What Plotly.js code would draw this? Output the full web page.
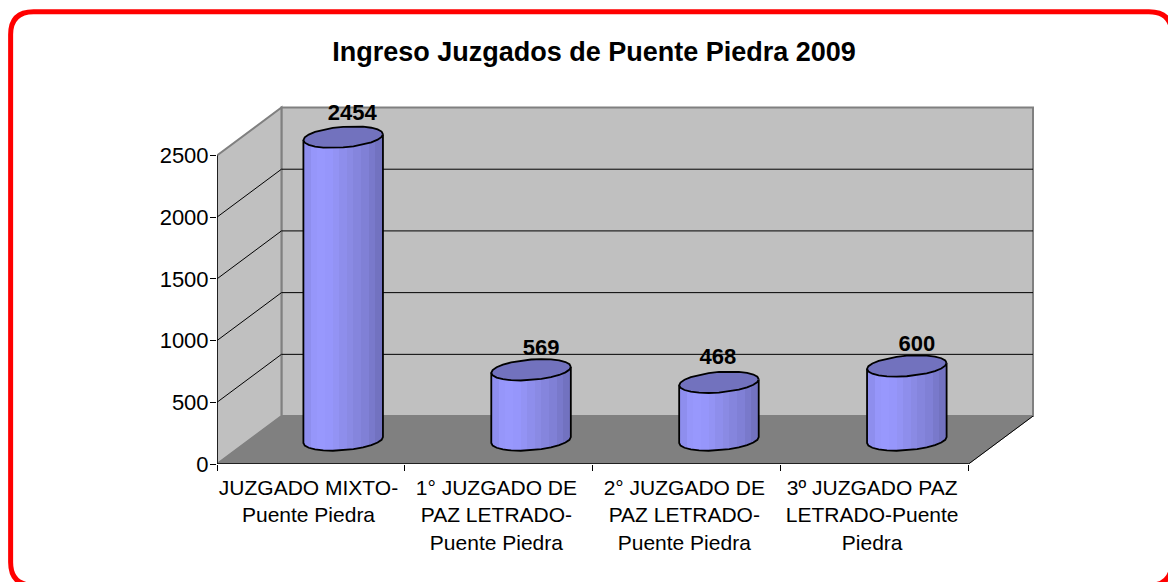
<!DOCTYPE html>
<html><head><meta charset="utf-8">
<script src="https://cdn.plot.ly/plotly-3.0.1.min.js"></script>
<style>html,body{margin:0;padding:0;background:#fff;overflow:hidden}#c{width:1168px;height:582px}</style>
</head><body><div id="c"></div>
<script>
const categories = ["JUZGADO MIXTO-<br>Puente Piedra","1° JUZGADO DE<br>PAZ LETRADO-<br>Puente Piedra","2° JUZGADO DE<br>PAZ LETRADO-<br>Puente Piedra","3º JUZGADO PAZ<br>LETRADO-Puente<br>Piedra"];
const values = [2454, 569, 468, 600];
const yTicks = [0, 500, 1000, 1500, 2000, 2500];
const labelShiftX = [9, 10, -1, 10];
const labelShiftY = [23, 20, 24, 21];

(function(){
const W = 1168, H = 582, L = 216.5, R = 1036, T = 104, B = 464.5;
const pxPerCat = 188, pxPerUnit = 309 / 2500;
const depthX = 64.5 / pxPerCat, depthY = 48 / pxPerUnit;
const nCat = categories.length;
const xr = [0, (R - L) / pxPerCat], yr = [0, (B - T) / pxPerUnit];
const px = v => v / pxPerCat, py = v => v / pxPerUnit;

const traces = [];
const stops = [[0,[142,142,238]],[0.14,[153,153,255]],[0.32,[150,150,250]],[0.55,[140,140,232]],[0.8,[128,128,214]],[1,[114,114,192]]];
function grad(u){
  for(let i=1;i<stops.length;i++){ if(u<=stops[i][0]){
    const a=stops[i-1],b=stops[i],f=(u-a[0])/(b[0]-a[0]);
    return 'rgb('+a[1].map((c,k)=>Math.round(c+(b[1][k]-c)*f)).join(',')+')';
  }}
  return 'rgb(114,114,192)';
}
const A = 39.8, Bb = 10.3, C = 3, seg = 12, nSlices = 40, bands = 11;
const ellX = t => A * Math.cos(t);
const ellY = t => Bb * Math.sin(t) + C * Math.cos(t);   // px upward

values.forEach((v, i) => {
  const cx = i + 0.5 + depthX / 2, cy = depthY / 2;
  const xs = [], base = [], ys = [], cols = [];
  for (let s = 0; s < nSlices; s++) {
    const xp = -A + (s + 0.5) * 2 * A / nSlices;
    const t = Math.acos(xp / A);
    const bandU = Math.floor(((xp + A) / (2 * A)) * bands) / (bands - 1);
    xs.push(cx + px(xp));
    base.push(cy + py(C * Math.cos(t) - Bb * Math.sin(t)));
    ys.push(v);
    cols.push(grad(Math.min(bandU, 1)));
  }
  traces.push({type:'bar', x:xs, y:ys, base:base, width:px(2*A/nSlices),
    marker:{color:cols, line:{width:0}}, hoverinfo:'skip', showlegend:false});
  const ox = [], oy = [];
  for (let k = 0; k <= seg; k++) { const t = Math.PI + k/seg*Math.PI;
    ox.push(cx + px(ellX(t))); oy.push(cy + py(ellY(t))); }
  const fullX = [cx + px(-A), ...ox, cx + px(A)];
  const fullY = [cy + v + py(-C), ...oy, cy + v + py(C)];
  traces.push({type:'scatter', mode:'lines', x:fullX, y:fullY, line:{color:'#000',width:1.8},
    hoverinfo:'skip', showlegend:false, cliponaxis:false});
  const ex = [], ey = [];
  for (let k = 0; k <= 2*seg; k++) { const t = k/(2*seg)*2*Math.PI;
    ex.push(cx + px(ellX(t))); ey.push(cy + v + py(ellY(t))); }
  traces.push({type:'scatter', mode:'lines', x:ex, y:ey, fill:'toself', fillcolor:'#7272BE',
    line:{color:'#000',width:1.8}, hoverinfo:'skip', showlegend:false});
});
traces.push({type:'scatter', mode:'text',
  x:values.map((v,i)=>i+0.5+depthX/2+px(labelShiftX[i])),
  y:values.map((v,i)=>depthY/2+v+py(labelShiftY[i])),
  text:values.map(String), textposition:'middle center',
  textfont:{family:'Liberation Sans',size:22,color:'#000',weight:700},
  hoverinfo:'skip', showlegend:false, cliponaxis:false});

const pxp = x => (x - L) / (R - L), pyp = y => (B - y) / (B - T);
const fx = 10, fy = 11.5, fr = 1172, fb = 586, rad = 23;
const P = (x,y)=>pxp(x)+' '+pyp(y);
const framePath = 'M'+P(fx+rad,fy)+' L'+P(fr-rad,fy)+' Q'+P(fr,fy)+' '+P(fr,fy+rad)+' L'+P(fr,fb-rad)+
  ' Q'+P(fr,fb)+' '+P(fr-rad,fb)+' L'+P(fx+rad,fb)+' Q'+P(fx,fb)+' '+P(fx,fb-rad)+' L'+P(fx,fy+rad)+' Q'+P(fx,fy)+' '+P(fx+rad,fy)+' Z';

const poly = pts => 'M'+pts.map(p=>p[0]+' '+p[1]).join(' L')+' Z';
const topV = yTicks[yTicks.length-1];
const shapes = [
  {type:'path', xref:'paper', yref:'paper', path:framePath, line:{color:'#FF0000',width:5}, fillcolor:'#fff', layer:'below'},
  {type:'path', xref:'x', yref:'y', layer:'below', path:poly([[depthX,depthY],[nCat+depthX,depthY],[nCat+depthX,topV+depthY],[depthX,topV+depthY]]), fillcolor:'#C0C0C0', line:{color:'#808080',width:2}},
  {type:'path', xref:'x', yref:'y', layer:'below', path:poly([[0,0],[depthX,depthY],[depthX,topV+depthY],[0,topV]]), fillcolor:'#C0C0C0', line:{color:'#808080',width:2}},
  {type:'path', xref:'x', yref:'y', layer:'below', path:poly([[0,0],[depthX,depthY],[nCat+depthX,depthY],[nCat,0]]), fillcolor:'#808080', line:{color:'#808080',width:1}},
  {type:'line', xref:'x', yref:'y', layer:'below', x0:nCat, y0:0, x1:nCat+depthX, y1:depthY, line:{color:'#000',width:1}},
];
yTicks.slice(1,-1).forEach(v=>{
  shapes.push({type:'line', xref:'x', yref:'y', layer:'below', x0:depthX, y0:v+depthY, x1:nCat+depthX, y1:v+depthY, line:{color:'#000',width:1}});
  shapes.push({type:'line', xref:'x', yref:'y', layer:'below', x0:0, y0:v, x1:depthX, y1:v+depthY, line:{color:'#000',width:1}});
});
shapes.push({type:'line', xref:'x', yref:'y', x0:0, y0:0, x1:nCat, y1:0, line:{color:'#000',width:1.5}});
shapes.push({type:'line', xref:'x', yref:'y', x0:0, y0:0, x1:0, y1:topV, line:{color:'#000',width:1.5}});

const layout = {
  width:W, height:H, paper_bgcolor:'#fff', plot_bgcolor:'rgba(0,0,0,0)',
  margin:{l:L, r:W-R, t:T, b:H-B, pad:0}, showlegend:false, barmode:'overlay', bargap:0,
  title:{text:'<b>Ingreso Juzgados de Puente Piedra 2009</b>', x:594/W, xanchor:'center', y:1-52/H, yanchor:'middle',
    font:{family:'Liberation Sans',size:27,color:'#000'}},
  font:{family:'Liberation Sans',color:'#000'},
  xaxis:{range:xr, fixedrange:true, showgrid:false, zeroline:false, showline:false,
    tickmode:'array', tickvals:categories.map((c,i)=>i+0.5-0.013), ticktext:categories,
    ticks:'', tickangle:0, ticklabelstandoff:9, tickfont:{family:'Liberation Sans',size:21,color:'#000'},
    minor:{tickmode:'array', tickvals:[0,1,2,3,4], ticks:'outside', ticklen:6, tickcolor:'#000', tickwidth:1, showgrid:false}},
  yaxis:{range:yr, fixedrange:true, showgrid:false, zeroline:false, showline:false,
    tickmode:'array', tickvals:yTicks, ticktext:yTicks.map(String), ticks:'outside', ticklen:6, tickcolor:'#000', tickwidth:1,
    ticklabelstandoff:-3, tickfont:{family:'Liberation Sans',size:22,color:'#000'}},
  shapes:shapes
};
Plotly.newPlot('c', traces, layout, {displayModeBar:false, staticPlot:true});
})();
</script></body></html>
